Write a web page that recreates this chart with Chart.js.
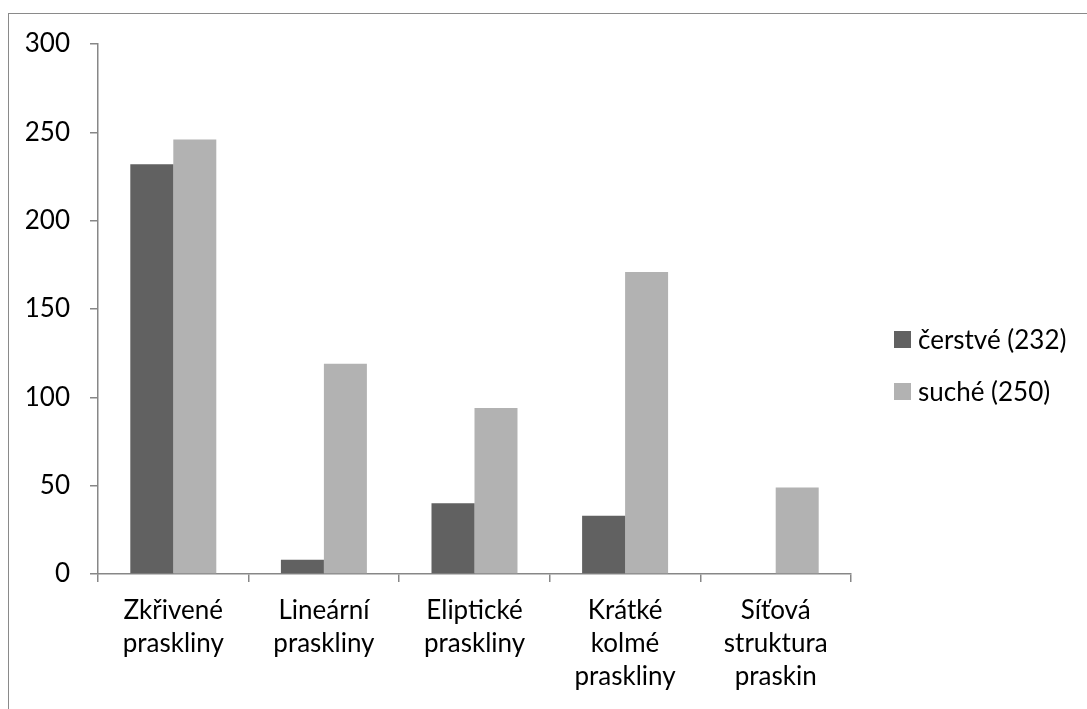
<!DOCTYPE html>
<html>
<head>
<meta charset="utf-8">
<script src="https://cdn.jsdelivr.net/npm/chart.js@4"></script>
<style>
  html, body { margin: 0; padding: 0; background: #ffffff; }
  #wrap { width: 1087px; height: 709px; position: relative; }
</style>
</head>
<body>
<div id="wrap"><canvas id="c"></canvas></div>
<script>
// Crack types (multi-line labels under the axis)
const categories = [
  ['Zkřivené', 'praskliny'],
  ['Lineární', 'praskliny'],
  ['Eliptické', 'praskliny'],
  ['Krátké', 'kolmé', 'praskliny'],
  ['Síťová', 'struktura', 'praskin']
];
const seriesNames = ['čerstvé (232)', 'suché (250)'];
const fresh = [232, 8, 40, 33, 0];
const dry = [246, 119, 94, 171, 49];
const yTicks = [0, 50, 100, 150, 200, 250, 300];

const FONT = 'Lato, "Open Sans", sans-serif';
const FONT_SIZE = 26;
const AXIS = '#878787';

// Outer frame of the chart
const framePlugin = {
  id: 'frame',
  beforeDraw(chart) {
    const ctx = chart.ctx;
    ctx.save();
    ctx.fillStyle = '#ffffff';
    ctx.fillRect(0, 0, chart.width, chart.height);
    ctx.strokeStyle = '#8a8a8a';
    ctx.lineWidth = 1;
    ctx.strokeRect(8.5, 13.5, 2000, 2000);
    ctx.restore();
  }
};

// Legend on the right, built from the datasets
const sideLegend = {
  id: 'sideLegend',
  afterDraw(chart) {
    const ctx = chart.ctx;
    ctx.save();
    ctx.font = FONT_SIZE + 'px ' + FONT;
    ctx.textBaseline = 'middle';
    ctx.textAlign = 'left';
    chart.data.datasets.forEach((ds, i) => {
      const cy = 339.5 + i * 52;
      ctx.fillStyle = ds.backgroundColor;
      ctx.fillRect(894, cy - 8.5, 17, 17);
      ctx.fillStyle = '#000000';
      ctx.fillText(ds.label, 918, cy + 1);
    });
    ctx.restore();
  }
};

new Chart(document.getElementById('c'), {
  type: 'bar',
  data: {
    labels: categories,
    datasets: [
      { label: seriesNames[0], data: fresh, backgroundColor: '#616161' },
      { label: seriesNames[1], data: dry, backgroundColor: '#b2b2b2' }
    ]
  },
  options: {
    responsive: true,
    maintainAspectRatio: false,
    animation: false,
    devicePixelRatio: 1,
    layout: { padding: { top: 44, right: 236, left: 0, bottom: 0 } },
    datasets: {
      bar: { categoryPercentage: 0.571, barPercentage: 1.0, borderWidth: 0 }
    },
    plugins: {
      legend: { display: false },
      tooltip: { enabled: false }
    },
    scales: {
      x: {
        grid: {
          offset: true,
          drawOnChartArea: false,
          drawTicks: true,
          tickLength: 8,
          color: AXIS,
          lineWidth: 1.5
        },
        border: { color: AXIS, width: 1.5 },
        ticks: {
          color: '#000000',
          padding: 12,
          maxRotation: 0,
          autoSkip: false,
          font: { family: FONT, size: FONT_SIZE, lineHeight: 1.27 }
        },
        afterFit(scale) { scale.height = 135; }
      },
      y: {
        min: 0,
        max: 300,
        afterBuildTicks(scale) { scale.ticks = yTicks.map(v => ({ value: v })); },
        grid: {
          drawOnChartArea: false,
          drawTicks: true,
          tickLength: 8,
          color: AXIS,
          lineWidth: 1.5
        },
        border: { color: AXIS, width: 1.5 },
        ticks: {
          color: '#000000',
          padding: 20,
          font: { family: FONT, size: FONT_SIZE }
        },
        afterFit(scale) { scale.width = 98; }
      }
    }
  },
  plugins: [framePlugin, sideLegend]
});
</script>
</body>
</html>
